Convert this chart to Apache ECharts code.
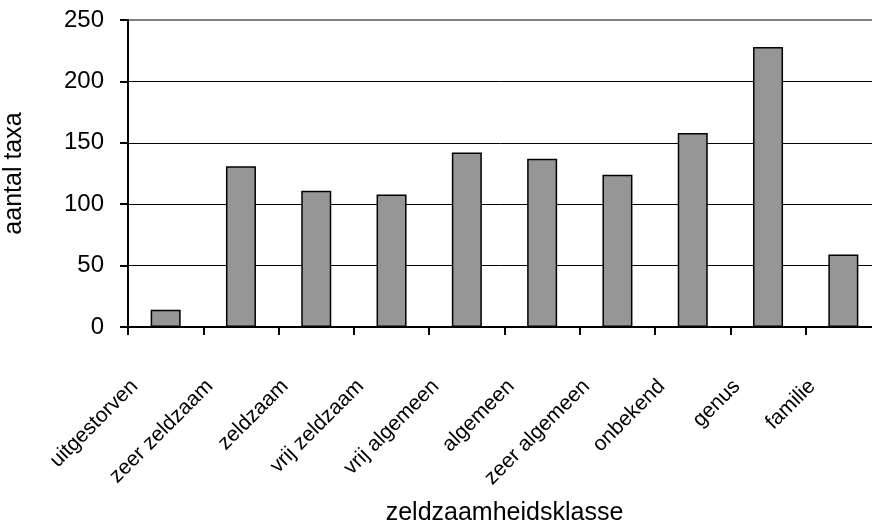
<!DOCTYPE html>
<html>
<head>
<meta charset="utf-8">
<script src="https://cdn.jsdelivr.net/npm/echarts@6/dist/echarts.min.js"></script>
<style>
html,body{margin:0;padding:0;background:#fff;}
#c{width:872px;height:527px;}
</style>
</head>
<body>
<div id="c"></div>
<script>
var categories = ['uitgestorven','zeer zeldzaam','zeldzaam','vrij zeldzaam','vrij algemeen','algemeen','zeer algemeen','onbekend','genus','familie'];
var values = [14, 131, 111, 108, 142, 137, 124, 158, 228, 59];
var yTicks = {min: 0, max: 250, interval: 50};
var xTitle = 'zeldzaamheidsklasse';
var yTitle = 'aantal taxa';

var font = "'Liberation Sans', Arial, sans-serif";
var chart = echarts.init(document.getElementById('c'), null, {renderer: 'canvas'});
chart.setOption({
  animation: false,
  backgroundColor: '#fff',
  grid: {left: 128, top: 20, bottom: 200, right: -9, containLabel: false, outerBoundsMode: 'none', show: true, borderColor: '#808080', borderWidth: 2, backgroundColor: 'transparent'},
  xAxis: {
    type: 'category',
    data: categories,
    name: xTitle,
    nameLocation: 'middle',
    nameGap: 174,
    nameTextStyle: {fontFamily: font, fontSize: 25, color: '#000'},
    axisLine: {lineStyle: {color: '#000', width: 2}},
    axisTick: {show: true, length: 8, lineStyle: {color: '#000', width: 2}},
    axisLabel: {rotate: 45, interval: 0, margin: 25, padding: [0, 44, 0, 0], fontFamily: font, fontSize: 21, color: '#000'},
    splitLine: {show: false}
  },
  yAxis: {
    type: 'value',
    min: yTicks.min, max: yTicks.max, interval: yTicks.interval,
    name: yTitle,
    nameLocation: 'middle',
    nameGap: 101,
    nameRotate: 90,
    nameTextStyle: {fontFamily: font, fontSize: 25, color: '#000'},
    axisLine: {show: true, lineStyle: {color: '#000', width: 2}},
    axisTick: {show: true, length: 8, lineStyle: {color: '#000', width: 2}},
    axisLabel: {margin: 24, fontFamily: font, fontSize: 24, color: '#000'},
    splitLine: {show: true, lineStyle: {color: ['#000','#000','#000','#000','#000','#808080'], width: 1}}
  },
  series: [{
    type: 'bar',
    data: values,
    barWidth: 30,
    itemStyle: {color: '#969696', borderColor: '#000', borderWidth: 1.5}
  }]
});
</script>
</body>
</html>
